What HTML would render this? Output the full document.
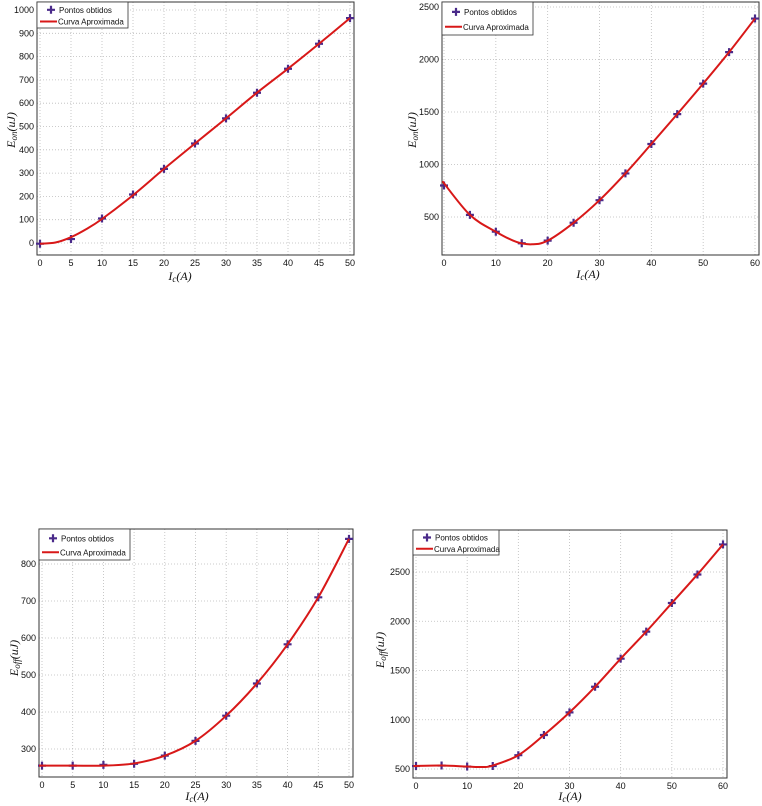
<!DOCTYPE html>
<html><head><meta charset="utf-8"><style>
body{margin:0;background:#fff;width:762px;height:806px;overflow:hidden}
svg{position:absolute;left:0;top:0}
text{font-family:"Liberation Sans",Arial,sans-serif;font-size:9px;fill:#111}
.lg{font-size:8px}
.lab{font-family:"Liberation Serif",serif;font-style:italic;font-size:12px}
</style></head><body>
<svg id="s" width="762" height="806" xmlns="http://www.w3.org/2000/svg"></svg>
<script>
var S=document.getElementById('s'),NS='http://www.w3.org/2000/svg';
function el(t,a,txt){var e=document.createElementNS(NS,t);for(var k in a)e.setAttribute(k,a[k]);if(txt!=null)e.textContent=txt;S.appendChild(e);return e;}
function chart(c){
 var L=c.L,R=c.R,T=c.T,B=c.B;
 function X(v){return c.x0p+(v-0)*(c.x1p-c.x0p)/c.xmax;}
 function Y(v){return c.ya_p+(v-c.ya)*(c.yb_p-c.ya_p)/(c.yb-c.ya);}
 el('rect',{x:L,y:T,width:R-L,height:B-T,fill:'#fff',stroke:'none'});
 c.xt.forEach(function(v){var x=X(v);el('line',{x1:x,y1:T,x2:x,y2:B,stroke:'#bbb','stroke-width':0.8,'stroke-dasharray':'1,2'});
  el('text',{x:x,y:B+11,'text-anchor':'middle'},v);});
 c.yt.forEach(function(v){var y=Y(v);el('line',{x1:L,y1:y,x2:R,y2:y,stroke:'#bbb','stroke-width':0.8,'stroke-dasharray':'1,2'});
  el('text',{x:L-3,y:y+3,'text-anchor':'end'},v);});
 el('rect',{x:L,y:T,width:R-L,height:B-T,fill:'none',stroke:'#333','stroke-width':1});
 var p=c.d.map(function(d){return[X(d[0]),Y(d[1])]});var cp=c.cd?c.cd.map(function(d){return[X(d[0]),Y(d[1])]}):p;
 var s='M'+cp[0][0]+','+cp[0][1];
 for(var i=0;i<cp.length-1;i++){var p0=cp[Math.max(0,i-1)],p1=cp[i],p2=cp[i+1],p3=cp[Math.min(cp.length-1,i+2)];
  s+=' C'+(p1[0]+(p2[0]-p0[0])/6)+','+(p1[1]+(p2[1]-p0[1])/6)+' '+(p2[0]-(p3[0]-p1[0])/6)+','+(p2[1]-(p3[1]-p1[1])/6)+' '+p2[0]+','+p2[1];}
 p.forEach(function(q){el('path',{d:'M'+(q[0]-4)+','+q[1]+'h8M'+q[0]+','+(q[1]-4)+'v8',stroke:'#4a2a8a','stroke-width':2.2});});
 el('path',{d:s,fill:'none',stroke:'#d81818','stroke-width':2});
 var lw=c.lw,lh=c.lh;
 el('rect',{x:L,y:T,width:lw,height:lh,fill:'#fff',stroke:'#333','stroke-width':0.8});
 var y1=T+lh*0.3,y2=T+lh*0.75;
 el('path',{d:'M'+(L+10)+','+y1+'h8M'+(L+14)+','+(y1-4)+'v8',stroke:'#4a2a8a','stroke-width':2.2});
 el('text',{'class':'lg',x:L+22,y:y1+3},'Pontos obtidos');
 el('line',{x1:L+3,y1:y2,x2:L+20,y2:y2,stroke:'#d81818','stroke-width':2});
 el('text',{'class':'lg',x:L+21,y:y2+3},'Curva Aproximada');
 var t=el('text',{'class':'lab',x:c.xl[0],y:c.xl[1],'text-anchor':'middle'});t.innerHTML='I<tspan dy="2" font-size="9">c</tspan><tspan dy="-2">(A)</tspan>';
 var t2=el('text',{'class':'lab',x:0,y:0,'text-anchor':'middle',transform:'translate('+c.yl[0]+','+c.yl[1]+') rotate(-90)'});t2.innerHTML='E<tspan dy="2" font-size="9">'+c.sub+'</tspan><tspan dy="-2">(uJ)</tspan>';
}
chart({L:37,R:354,T:2,B:255,x0p:40,x1p:350,xmax:50,ya:0,ya_p:243,yb:1000,yb_p:10,
 xt:[0,5,10,15,20,25,30,35,40,45,50],yt:[0,100,200,300,400,500,600,700,800,900,1000],
 d:[[0,-3],[5,17],[10,105],[15,208],[20,318],[25,427],[30,535],[35,645],[40,748],[45,855],[50,965]],
 cd:[[0,-3],[2.5,2],[5,25],[7.5,60],[10,103],[15,205],[20,318],[25,427],[30,535],[35,645],[40,748],[45,855],[50,965]],
 lw:91,lh:26,xl:[180,280],yl:[15,130],sub:'on'});
chart({L:442,R:759,T:2,B:255,x0p:444,x1p:755,xmax:60,ya:500,ya_p:217,yb:2500,yb_p:7,
 xt:[0,10,20,30,40,50,60],yt:[500,1000,1500,2000,2500],
 d:[[0,800],[5,520],[10,360],[15,250],[20,275],[25,445],[30,660],[35,915],[40,1195],[45,1480],[50,1770],[55,2070],[60,2390]],
 cd:[[-0.3,840],[5,520],[10,360],[14,262],[17,240],[20,275],[25,445],[30,660],[35,915],[40,1195],[45,1480],[50,1770],[55,2070],[60,2390]],
 lw:91,lh:33,xl:[588,278],yl:[416,130],sub:'on'});
chart({L:39,R:353,T:529,B:777,x0p:42,x1p:349,xmax:50,ya:300,ya_p:749,yb:800,yb_p:564,
 xt:[0,5,10,15,20,25,30,35,40,45,50],yt:[300,400,500,600,700,800],
 d:[[0,255],[5,255],[10,257],[15,260],[20,282],[25,322],[30,390],[35,477],[40,583],[45,710],[50,868]],
 cd:[[-0.5,255],[5,255],[10,255],[15,261],[20,282],[25,322],[30,390],[35,477],[40,583],[45,710],[50,868]],
 lw:91,lh:31,xl:[197,800],yl:[18,658],sub:'off'});
chart({L:413,R:727,T:530,B:778,x0p:416,x1p:723,xmax:60,ya:500,ya_p:769,yb:2500,yb_p:572,
 xt:[0,10,20,30,40,50,60],yt:[500,1000,1500,2000,2500],
 d:[[0,530],[5,535],[10,525],[15,530],[20,640],[25,845],[30,1075],[35,1335],[40,1620],[45,1895],[50,2185],[55,2475],[60,2780]],
 cd:[[-0.5,530],[5,535],[10,525],[13,520],[15,535],[20,640],[25,845],[30,1075],[35,1335],[40,1620],[45,1895],[50,2185],[55,2475],[60,2780]],
 lw:86,lh:25,xl:[570,800],yl:[384,650],sub:'off'});
</script>
</body></html>
